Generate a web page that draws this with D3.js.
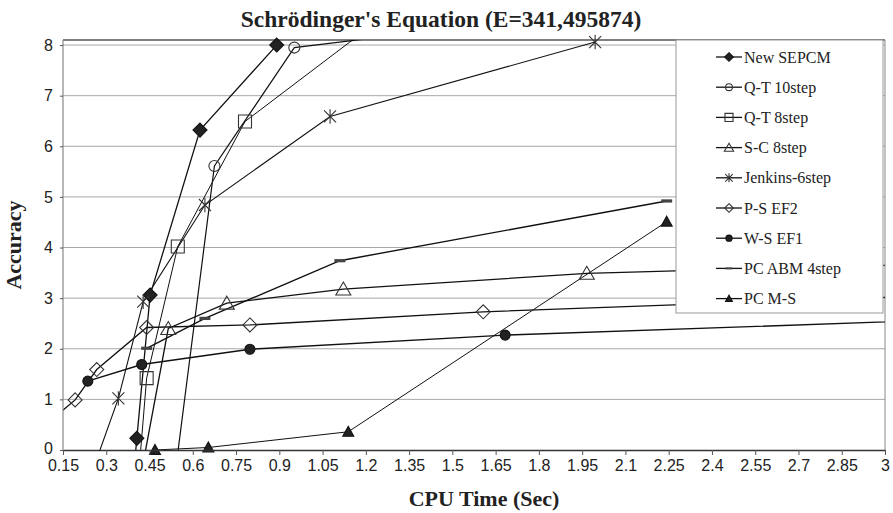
<!DOCTYPE html>
<html><head><meta charset="utf-8">
<script src="https://cdn.jsdelivr.net/npm/d3@7"></script>
<style>body{margin:0;background:#fff;}svg{display:block;}</style>
</head><body>
<svg id="chart" width="893" height="513"></svg>
<script>
// ---------- data ----------
const seriesNames = ["New SEPCM","Q-T 10step","Q-T 8step","S-C 8step","Jenkins-6step","P-S EF2","W-S EF1","PC ABM 4step","PC M-S"];
const newSepcmX = [0.396, 0.406, 0.452, 0.625, 0.891];
const newSepcmY = [-0.4, 0.23, 3.06, 6.32, 8.0];
const qt10X = [0.538, 0.675, 0.952, 1.3];
const qt10Y = [-0.5, 5.61, 7.95, 8.19];
const qt8X = [0.415, 0.44, 0.548, 0.781, 1.2];
const qt8Y = [-0.3, 1.42, 4.02, 6.49, 8.3];
const sc8X = [0.42, 0.515, 0.718, 1.122, 1.966, 3.3];
const sc8Y = [-0.5, 2.4, 2.9, 3.18, 3.49, 3.7];
const jenkinsX = [0.25, 0.342, 0.428, 0.642, 1.076, 1.995];
const jenkinsY = [-0.45, 1.02, 2.93, 4.84, 6.59, 8.06];
const psEf2X = [0.1, 0.192, 0.267, 0.44, 0.798, 1.607, 3.3];
const psEf2Y = [0.55, 0.99, 1.59, 2.42, 2.47, 2.73, 3.08];
const wsEf1X = [0.236, 0.423, 0.798, 1.683, 3.3];
const wsEf1Y = [1.36, 1.69, 1.99, 2.27, 2.59];
const pcAbmX = [0.44, 0.642, 1.11, 2.243];
const pcAbmY = [2.01, 2.6, 3.74, 4.92];
const pcMsX = [0.469, 0.654, 1.139, 2.243];
const pcMsY = [0.0, 0.05, 0.36, 4.51];
const xTickValues = [0.15,0.3,0.45,0.6,0.75,0.9,1.05,1.2,1.35,1.5,1.65,1.8,1.95,2.1,2.25,2.4,2.55,2.7,2.85,3];
const xTickLabels = ["0.15","0.3","0.45","0.6","0.75","0.9","1.05","1.2","1.35","1.5","1.65","1.8","1.95","2.1","2.25","2.4","2.55","2.7","2.85","3"];
const yTickValues = [0,1,2,3,4,5,6,7,8];
const titleText = "Schrödinger's Equation (E=341,495874)";
const xTitle = "CPU Time (Sec)";
const yTitle = "Accuracy";

const seriesX = [newSepcmX, qt10X, qt8X, sc8X, jenkinsX, psEf2X, wsEf1X, pcAbmX, pcMsX];
const seriesY = [newSepcmY, qt10Y, qt8Y, sc8Y, jenkinsY, psEf2Y, wsEf1Y, pcAbmY, pcMsY];
const markerTypes = ["fdiamond","ocircle","osquare","otriangle","star","odiamond","fcircle","dash","ftriangle"];
const lineWidths = [1.3,1.2,1.0,1.3,1.1,1.3,1.4,1.4,1.0];

// ---------- layout ----------
const svg = d3.select("#chart");
const L = 63, R = 885, T = 40, B = 450;
const x = d3.scaleLinear().domain([0.15, 3]).range([L, R]);
const y = d3.scaleLinear().domain([0, 8.1]).range([B, T]);
const serif = "'Liberation Serif','Times New Roman',serif";
const sans = "'Liberation Sans',Arial,sans-serif";

svg.append("defs").append("clipPath").attr("id","plotclip")
  .append("rect").attr("x",L).attr("y",T).attr("width",R-L).attr("height",B-T);

// gridlines
svg.append("g").selectAll("line").data(yTickValues.filter(v=>v>0)).join("line")
  .attr("x1",L).attr("x2",R).attr("y1",d=>y(d)).attr("y2",d=>y(d))
  .attr("stroke","#a8a8a8").attr("stroke-width",1);

// plot borders
svg.append("line").attr("x1",L).attr("x2",R).attr("y1",T).attr("y2",T).attr("stroke","#555").attr("stroke-width",1.6);
svg.append("line").attr("x1",R).attr("x2",R).attr("y1",T).attr("y2",B).attr("stroke","#888").attr("stroke-width",1);

// marker paths
function markerPath(type, s) {
  switch(type) {
    case "fdiamond": case "odiamond": {
      const h = 7*s; return `M0,${-h}L${h},0L0,${h}L${-h},0Z`; }
    case "ocircle": case "fcircle": {
      const r = (type==="ocircle"?5.5:5)*s; return `M${r},0A${r},${r} 0 1,1 ${-r},0A${r},${r} 0 1,1 ${r},0Z`; }
    case "osquare": { const h = 6.5*s; return `M${-h},${-h}H${h}V${h}H${-h}Z`; }
    case "otriangle": { const w = 7.5*s, h = 7*s; return `M0,${-h}L${w},${h*0.85}L${-w},${h*0.85}Z`; }
    case "ftriangle": { const w = 5.5*s, h = 5.5*s; return `M0,${-h}L${w},${h*0.8}L${-w},${h*0.8}Z`; }
    case "star": { const h = 6*s; return `M${-h},${-h}L${h},${h}M${-h},${h}L${h},${-h}M0,${-h*1.2}V${h*1.2}`; }
    case "dash": { const w = 5.5*s, h = 1.6*s; return `M${-w},${-h}H${w}V${h}H${-w}Z`; }
  }
}
function markerStyle(sel, type) {
  const filled = type.startsWith("f") || type==="dash";
  sel.attr("fill", filled ? (type==="dash" ? "#444" : "#222") : "none")
     .attr("stroke", type==="dash" ? "none" : (filled ? "#111" : "#333"))
     .attr("stroke-width", 1.1);
}

const line = d3.line().x(d=>x(d[0])).y(d=>y(d[1]));
const lineG = svg.append("g").attr("clip-path","url(#plotclip)");
const markG = svg.append("g");
seriesNames.forEach((name,i)=>{
  const pts = seriesX[i].map((v,j)=>[v, seriesY[i][j]]);
  lineG.append("path").datum(pts).attr("d",line).attr("fill","none")
    .attr("stroke","#111").attr("stroke-width",lineWidths[i]);
  const vis = pts.filter(p=>p[0]>=0.15 && p[0]<=3 && p[1]>=-0.05 && p[1]<=8.1);
  markG.selectAll(null).data(vis).join("path")
    .attr("transform",d=>`translate(${x(d[0])},${y(d[1])})`)
    .attr("d",markerPath(markerTypes[i],1))
    .call(markerStyle, markerTypes[i]);
});

// axes
const xAxis = d3.axisBottom(x).tickValues(xTickValues)
  .tickFormat((d,i)=>xTickLabels[i]).tickSizeInner(5).tickSizeOuter(0).tickPadding(5);
const gx = svg.append("g").attr("transform",`translate(0,${B})`).call(xAxis);
gx.select(".domain").attr("stroke","#333").attr("stroke-width",1.4);
gx.selectAll(".tick line").attr("stroke","#555");
gx.selectAll("text").attr("font-family",sans).attr("font-size","16px").attr("fill","#222");

const yAxis = d3.axisLeft(y).tickValues(yTickValues).tickFormat(d3.format("d"))
  .tickSizeInner(3).tickSizeOuter(0).tickPadding(7);
const gy = svg.append("g").attr("transform",`translate(${L},0)`).call(yAxis);
gy.select(".domain").attr("stroke","#888").attr("stroke-width",1.2).attr("d",`M0,${T}V${B}`);
gy.selectAll(".tick line").attr("stroke","#555");
gy.selectAll("text").attr("font-family",sans).attr("font-size","16px").attr("fill","#222");
gy.selectAll(".tick").filter(d=>d===0).select("text").attr("dy","0.2em");

// titles
svg.append("text").attr("x",441).attr("y",27).attr("text-anchor","middle")
  .attr("font-family",serif).attr("font-weight","bold").attr("font-size","23.5px").attr("fill","#222").text(titleText);
svg.append("text").attr("x",484).attr("y",506).attr("text-anchor","middle")
  .attr("font-family",serif).attr("font-weight","bold").attr("font-size","22px").attr("fill","#222").text(xTitle);
svg.append("text").attr("transform","translate(21,245) rotate(-90)").attr("text-anchor","middle")
  .attr("font-family",serif).attr("font-weight","bold").attr("font-size","22px").attr("fill","#222").text(yTitle);

// legend
const lg = svg.append("g");
lg.append("rect").attr("x",676).attr("y",40).attr("width",207).attr("height",273)
  .attr("fill","#fff").attr("stroke","#999").attr("stroke-width",1);
seriesNames.forEach((name,i)=>{
  const cy = 57 + i*30.2;
  lg.append("line").attr("x1",716).attr("x2",742).attr("y1",cy).attr("y2",cy)
    .attr("stroke","#111").attr("stroke-width",1.3);
  lg.append("path").attr("transform",`translate(729,${cy})`)
    .attr("d",markerPath(markerTypes[i],0.62)).call(markerStyle, markerTypes[i]);
  lg.append("text").attr("x",744).attr("y",cy+5.5).attr("font-family",serif)
    .attr("font-size","16px").attr("fill","#222").text(name);
});
</script>
</body></html>
